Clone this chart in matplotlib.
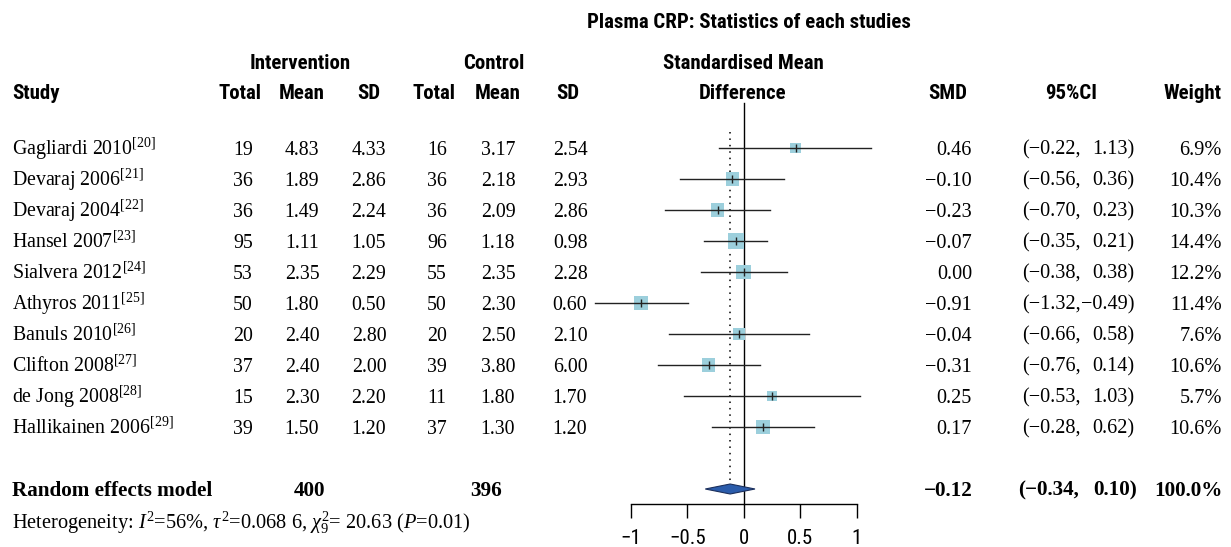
import matplotlib
matplotlib.use("Agg")
import matplotlib.pyplot as plt
from matplotlib import font_manager as fm
import numpy as np

# ---------------- data ----------------
studies = ["Gagliardi 2010", "Devaraj 2006", "Devaraj 2004", "Hansel 2007", "Sialvera 2012",
           "Athyros 2011", "Banuls 2010", "Clifton 2008", "de Jong 2008", "Hallikainen 2006"]
refs = [20, 21, 22, 23, 24, 25, 26, 27, 28, 29]
int_total = [19, 36, 36, 95, 53, 50, 20, 37, 15, 39]
int_mean = [4.83, 1.89, 1.49, 1.11, 2.35, 1.80, 2.40, 2.40, 2.30, 1.50]
int_sd = [4.33, 2.86, 2.24, 1.05, 2.29, 0.50, 2.80, 2.00, 2.20, 1.20]
ctl_total = [16, 36, 36, 96, 55, 50, 20, 39, 11, 37]
ctl_mean = [3.17, 2.18, 2.09, 1.18, 2.35, 2.30, 2.50, 3.80, 1.80, 1.30]
ctl_sd = [2.54, 2.93, 2.86, 0.98, 2.28, 0.60, 2.10, 6.00, 1.70, 1.20]
smd = [0.46, -0.10, -0.23, -0.07, 0.00, -0.91, -0.04, -0.31, 0.25, 0.17]
ci_low = [-0.22, -0.56, -0.70, -0.35, -0.38, -1.32, -0.66, -0.76, -0.53, -0.28]
ci_high = [1.13, 0.36, 0.23, 0.21, 0.38, -0.49, 0.58, 0.14, 1.03, 0.62]
weights = [6.9, 10.4, 10.3, 14.4, 12.2, 11.4, 7.6, 10.6, 5.7, 10.6]
pooled_smd = -0.12
pooled_low = -0.34
pooled_high = 0.10
pooled_weight = 100.0
pooled_int_total = 400
pooled_ctl_total = 396
xticks = [-1, -0.5, 0, 0.5, 1]
xtick_labels = ["\u22121", "\u22120.5", "0", "0.5", "1"]

title = "Plasma CRP: Statistics of each studies"
heterogeneity = r"Heterogeneity: $I^2$=56%, $\tau^2$=0.068 6, $\chi^2_9$= 20.63 ($P$=0.01)"

# ---------------- fonts ----------------
names = {f.name for f in fm.fontManager.ttflist}
if "Liberation Sans Narrow" in names:
    SANS = dict(family="Liberation Sans Narrow")
    HS, TS = 15.2, 15.0
elif "Roboto Condensed" in names:
    SANS = dict(family="Roboto Condensed")
    HS, TS = 15.0, 15.0
else:
    SANS = dict(family="DejaVu Sans", stretch="condensed")
    HS, TS = 14.4, 14.5
SERIF = "Liberation Serif"
plt.rcParams["mathtext.fontset"] = "custom"
plt.rcParams["mathtext.rm"] = "Liberation Serif"
plt.rcParams["mathtext.it"] = "Liberation Serif:italic"
plt.rcParams["mathtext.bf"] = "Liberation Serif:bold"

W, H = 1231, 547
fig = plt.figure(figsize=(W / 100, H / 100), dpi=100)
bg = fig.add_axes([0, 0, 1, 1])
bg.set_xlim(0, W)
bg.set_ylim(H, 0)
bg.axis("off")

def fmt(v, nd=2):
    return f"{v:.{nd}f}".replace("-", "\u2212")

row0, dy = 148, 31.0
rows = [row0 + dy * i for i in range(len(studies))]
y_pool = 489
y_het = 522
SZ = 14.3
SZR = 14.6
SZB = 15.2
base_off = 6.6  # baseline offset for serif text

# headers
hoff = 7.4
bg.text(749, 21 + hoff, title, ha="center", va="baseline", fontsize=HS, weight="bold", **SANS)
bg.text(300, 62 + hoff, "Intervention", ha="center", va="baseline", fontsize=HS, weight="bold", **SANS)
bg.text(494, 62 + hoff, "Control", ha="center", va="baseline", fontsize=HS, weight="bold", **SANS)
bg.text(743, 62 + hoff, "Standardised Mean", ha="center", va="baseline", fontsize=HS, weight="bold", **SANS)
hdr = [("Study", 12, "left"), ("Total", 240, "center"), ("Mean", 302, "center"), ("SD", 369, "center"),
       ("Total", 434, "center"), ("Mean", 498, "center"), ("SD", 568, "center"),
       ("Difference", 743, "center"), ("SMD", 948, "center"), ("95%CI", 1071, "center"),
       ("Weight", 1222, "right")]
for txt, x, ha in hdr:
    bg.text(x, 92 + hoff, txt, ha=ha, va="baseline", fontsize=HS, weight="bold", **SANS)

# study rows
col_x = [243, 302, 369, 437, 498, 570]
for i, y in enumerate(rows):
    yb = y + base_off
    bg.text(12, yb, studies[i] + r"$^{[" + str(refs[i]) + r"]}$", ha="left", va="baseline",
            fontsize=SZ, family=SERIF)
    vals = [str(int_total[i]), fmt(int_mean[i]), fmt(int_sd[i]),
            str(ctl_total[i]), fmt(ctl_mean[i]), fmt(ctl_sd[i])]
    for x, v in zip(col_x, vals):
        bg.text(x, yb, v, ha="center", va="baseline", fontsize=SZ, family=SERIF)
    bg.text(972, yb, fmt(smd[i]), ha="right", va="baseline", fontsize=SZR, family=SERIF)
    bg.text(1081, yb, "(" + fmt(ci_low[i]) + ",", ha="right", va="baseline", fontsize=SZR, family=SERIF)
    bg.text(1134, yb, fmt(ci_high[i]) + ")", ha="right", va="baseline", fontsize=SZR, family=SERIF)
    bg.text(1222, yb, f"{weights[i]:.1f}%", ha="right", va="baseline", fontsize=SZR, family=SERIF)

# pooled row
yb = y_pool + base_off
bg.text(12, yb, "Random effects model", ha="left", va="baseline", fontsize=SZB, family=SERIF, weight="bold")
bg.text(310, yb, str(pooled_int_total), ha="center", va="baseline", fontsize=SZB, family=SERIF, weight="bold")
bg.text(486, yb, str(pooled_ctl_total), ha="center", va="baseline", fontsize=SZB, family=SERIF, weight="bold")
bg.text(973, yb, fmt(pooled_smd), ha="right", va="baseline", fontsize=SZB, family=SERIF, weight="bold")
bg.text(1079, yb, "(" + fmt(pooled_low) + ",", ha="right", va="baseline", fontsize=SZB, family=SERIF, weight="bold")
bg.text(1137, yb, fmt(pooled_high) + ")", ha="right", va="baseline", fontsize=SZB, family=SERIF, weight="bold")
bg.text(1223, yb, f"{pooled_weight:.1f}%", ha="right", va="baseline", fontsize=SZB, family=SERIF, weight="bold")
bg.text(12, y_het + base_off, heterogeneity, ha="left", va="baseline", fontsize=14.7, family=SERIF)

# ---------------- forest panel ----------------
x0_px, unit_px = 743.7, 113.0
xmin, xmax = -1.6, 1.6
left_px = x0_px + xmin * unit_px
ax = fig.add_axes([left_px / W, 0, (xmax - xmin) * unit_px / W, 1])
ax.set_xlim(xmin, xmax)
ax.set_ylim(H, 0)
ax.patch.set_alpha(0)
for s in ["left", "right", "top"]:
    ax.spines[s].set_visible(False)
ax.spines["bottom"].set_position(("data", 504))
ax.spines["bottom"].set_bounds(-1, 1)
ax.spines["bottom"].set_linewidth(1.0)
ax.set_yticks([])
ax.set_xticks(xticks)
ax.set_xticklabels(xtick_labels, fontsize=TS, **SANS)
ax.tick_params(axis="x", direction="out", length=10.3, width=1.0, pad=8, color="black")

# zero line and pooled dotted line
ax.plot([0, 0], [103, 504], color="black", lw=1.0, zorder=2)
ax.plot([pooled_smd, pooled_smd], [132, y_pool - 5], color="black", lw=1.1,
        linestyle=(0, (1, 3.2)), zorder=2)

# squares
sizes_pt = [15.8 * np.sqrt(w / 14.4) * 0.72 for w in weights]
ax.scatter(smd, rows, s=[v ** 2 for v in sizes_pt], marker="s", color="#9ccfdc",
           linewidths=0, zorder=3)
for i, y in enumerate(rows):
    ax.plot([ci_low[i], ci_high[i]], [y, y], color="#222222", lw=1.0, zorder=4)
ax.plot(smd, rows, linestyle="none", marker="|", markersize=5.5, markeredgewidth=1.0,
        color="#222222", zorder=5)

# diamond
ax.fill([pooled_low, pooled_smd, pooled_high, pooled_smd],
        [y_pool, y_pool - 5, y_pool, y_pool + 5],
        facecolor="#2b5cab", edgecolor="#1b2f5c", lw=0.8, zorder=5)

fig.savefig("out.png", dpi=100)
